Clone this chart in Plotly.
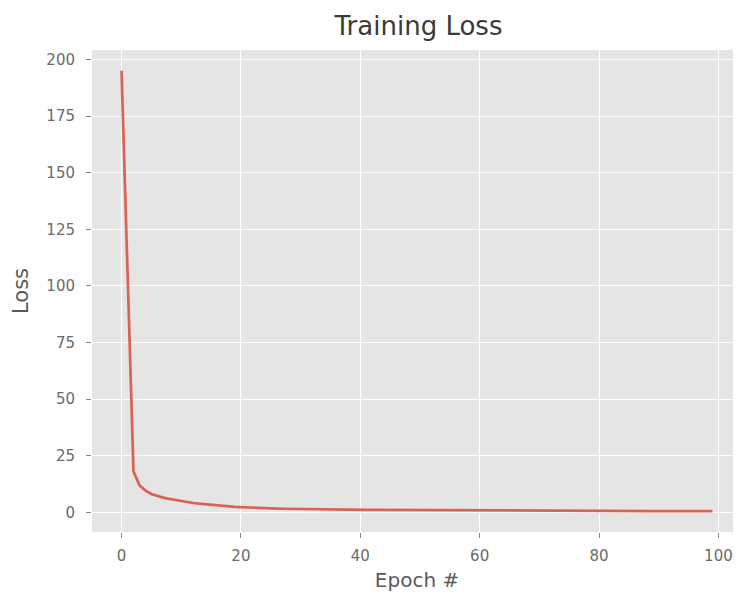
import plotly.graph_objects as go

epochs = list(range(100))
loss = [
    195.0, 105.0, 18.0, 12.0, 9.6, 8.1, 7.2, 6.5, 5.9, 5.4,
    4.9, 4.5, 4.1, 3.8, 3.5, 3.2, 3.0, 2.8, 2.6, 2.4,
    2.25, 2.1, 2.0, 1.9, 1.8, 1.72, 1.65, 1.58, 1.52, 1.47,
    1.42, 1.38, 1.34, 1.30, 1.27, 1.24, 1.21, 1.18, 1.16, 1.14,
    1.12, 1.10, 1.08, 1.06, 1.04, 1.02, 1.0, 0.99, 0.97, 0.96,
    0.94, 0.93, 0.92, 0.91, 0.90, 0.89, 0.88, 0.87, 0.86, 0.85,
    0.84, 0.83, 0.82, 0.81, 0.80, 0.79, 0.78, 0.77, 0.76, 0.75,
    0.74, 0.73, 0.72, 0.71, 0.70, 0.69, 0.68, 0.67, 0.66, 0.65,
    0.64, 0.63, 0.62, 0.61, 0.60, 0.60, 0.59, 0.58, 0.57, 0.56,
    0.56, 0.55, 0.54, 0.53, 0.53, 0.52, 0.51, 0.51, 0.50, 0.50,
]
x_ticks = [0, 20, 40, 60, 80, 100]
y_ticks = [0, 25, 50, 75, 100, 125, 150, 175, 200]

fig = go.Figure()
fig.add_trace(go.Scatter(
    x=epochs, y=loss, mode="lines",
    line=dict(color="#DA6253", width=2.7),
    showlegend=False,
))

tick_font = dict(family="DejaVu Sans", size=15, color="#6a6a6a")
label_font = dict(family="DejaVu Sans", size=20, color="#5a5a5a")
fig.update_layout(
    width=741, height=595,
    margin=dict(l=84, r=7, t=42, b=71),
    paper_bgcolor="white",
    plot_bgcolor="#E5E5E5",
    title=dict(text="Training Loss", x=410.5 / 741, xanchor="center",
               y=1 - 18 / 595, yanchor="middle",
               font=dict(family="DejaVu Sans", size=26, color="#3a3a3a")),
    font=dict(family="DejaVu Sans"),
)
fig.update_xaxes(
    range=[-4.95, 103.95], tickvals=x_ticks, ticktext=[str(v) for v in x_ticks],
    showgrid=True, gridcolor="white", gridwidth=1.3, zeroline=False,
    ticks="outside", ticklen=5, tickcolor="#888888", tickfont=tick_font,
    ticklabelstandoff=5,
    showline=False,
    title=dict(text="Epoch #", font=label_font, standoff=8),
)
fig.update_yaxes(
    range=[-8.7, 204.2], tickvals=y_ticks, ticktext=[str(v) for v in y_ticks],
    showgrid=True, gridcolor="white", gridwidth=1.3, zeroline=False,
    ticks="outside", ticklen=5, tickcolor="#888888", tickfont=tick_font,
    ticklabelstandoff=8,
    showline=False,
    title=dict(text="Loss", font=dict(family="DejaVu Sans", size=21, color="#5a5a5a"), standoff=12),
)

fig.write_html("out.html")
